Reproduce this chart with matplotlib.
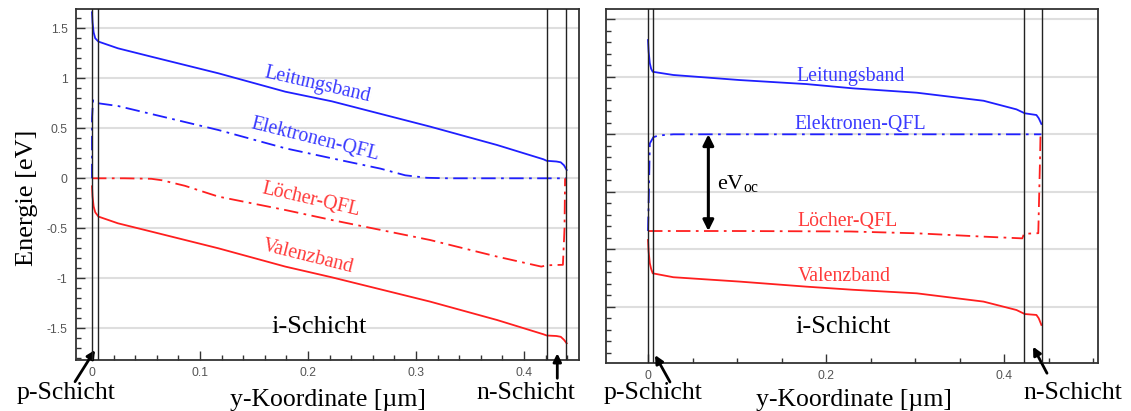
import matplotlib
matplotlib.use("Agg")
import matplotlib.pyplot as plt
from matplotlib.ticker import MultipleLocator, FormatStrFormatter, NullFormatter

plt.rcParams['axes.unicode_minus'] = False
plt.rcParams['mathtext.fontset'] = 'custom'
plt.rcParams['mathtext.rm'] = 'Liberation Serif'
plt.rcParams['mathtext.it'] = 'Liberation Serif:italic'

SERIF = 'Liberation Serif'
BLUE = '#1f1fff'
RED = '#ff1f1f'
BLUE_TXT = '#3a3aff'
RED_TXT = '#ff3a3a'

# ---- short circuit (left): band diagram along y, energies in eV ----
sc_x = [0.0, 0.0005, 0.0015, 0.003, 0.006, 0.024, 0.055, 0.117, 0.179, 0.222,
        0.313, 0.375, 0.418, 0.421, 0.430, 0.434, 0.437, 0.4395]
sc_cb = [1.66, 1.56, 1.46, 1.40, 1.367, 1.30, 1.216, 1.05, 0.866, 0.77,
         0.517, 0.333, 0.19, 0.175, 0.168, 0.16, 0.13, 0.083]
sc_vb = [-0.08, -0.18, -0.28, -0.34, -0.383, -0.45, -0.533, -0.70, -0.883, -0.99,
         -1.233, -1.417, -1.56, -1.572, -1.577, -1.585, -1.615, -1.65]

sc_efn_x = [0.0, 0.0, 0.001, 0.003, 0.006, 0.024, 0.055, 0.117, 0.179, 0.222,
            0.267, 0.29, 0.31, 0.33, 0.4395]
sc_efn = [0.0, 0.60, 0.78, 0.76, 0.75, 0.723, 0.643, 0.483, 0.30, 0.20,
          0.097, 0.03, 0.005, 0.0, 0.0]

sc_efp_x = [0.0, 0.03, 0.055, 0.065, 0.086, 0.117, 0.179, 0.222, 0.313, 0.375,
            0.416, 0.421, 0.436, 0.4375, 0.438]
sc_efp = [0.0, 0.0, -0.005, -0.02, -0.075, -0.183, -0.317, -0.417, -0.617, -0.783,
          -0.883, -0.87, -0.865, -0.5, 0.0]

sc_layers = [0.0, 0.0058, 0.4216, 0.4389]

# ---- open circuit (right) ----
oc_x = [0.0, 0.0007, 0.002, 0.0035, 0.0053, 0.0285, 0.103, 0.178, 0.23, 0.302,
        0.377, 0.414, 0.4233, 0.4364, 0.439, 0.442]
oc_cb = [0.82, 0.72, 0.62, 0.57, 0.544, 0.516, 0.472, 0.437, 0.40, 0.362,
         0.292, 0.217, 0.183, 0.168, 0.14, 0.09]
oc_vb = [-0.919, -1.02, -1.12, -1.17, -1.209, -1.243, -1.281, -1.325, -1.352, -1.383,
         -1.455, -1.528, -1.563, -1.571, -1.60, -1.658]

oc_efn_x = [0.0, 0.001, 0.002, 0.006, 0.012, 0.0285, 0.442]
oc_efn = [-0.841, -0.5, -0.08, -0.025, -0.01, 0.0, 0.0]

oc_efp_x = [0.0, 0.1, 0.227, 0.302, 0.377, 0.4205, 0.4225, 0.4385, 0.4405, 0.441]
oc_efp = [-0.841, -0.841, -0.845, -0.861, -0.89, -0.905, -0.865, -0.86, -0.2, 0.0]

oc_layers = [0.0, 0.0055, 0.4225, 0.443]

W, H = 1131, 411
fig = plt.figure(figsize=(W / 100, H / 100), dpi=100)

def px_box(x0, y0, x1, y1):
    return [x0 / W, 1 - y1 / H, (x1 - x0) / W, (y1 - y0) / H]

ax1 = fig.add_axes(px_box(76, 9, 579, 360))
ax2 = fig.add_axes(px_box(606, 9, 1098, 363))

DASHDOT = (8, 3, 1.5, 3)

def draw_bands(ax, x, cb, vb, efn_x, efn, efp_x, efp, layers):
    ax.plot(x, cb, color=BLUE, lw=1.3, zorder=3)
    ax.plot(x, vb, color=RED, lw=1.3, zorder=3)
    ax.plot(efn_x, efn, color=BLUE, lw=1.3, dashes=DASHDOT, zorder=3)
    ax.plot(efp_x, efp, color=RED, lw=1.3, dashes=DASHDOT, zorder=3)
    for xl in layers:
        ax.axvline(xl, color='#222222', lw=1.0, zorder=4)

def style_axes(ax, xmaj, xmin, show_ylabels):
    ax.xaxis.set_major_locator(MultipleLocator(xmaj))
    ax.xaxis.set_minor_locator(MultipleLocator(xmin))
    ax.yaxis.set_major_locator(MultipleLocator(0.5))
    ax.yaxis.set_minor_locator(MultipleLocator(0.1))
    ax.xaxis.set_major_formatter(FormatStrFormatter('%g'))
    if show_ylabels:
        ax.yaxis.set_major_formatter(FormatStrFormatter('%g'))
    else:
        ax.yaxis.set_major_formatter(NullFormatter())
    ax.tick_params(which='both', direction='in', top=False, right=False,
                   color='#333333', width=1.0)
    ax.tick_params(which='major', length=6.5, labelsize=8.7, labelcolor='#555555')
    ax.tick_params(which='minor', length=3.5)
    ax.tick_params(axis='y', pad=6)
    ax.tick_params(axis='x', pad=5)
    for lab in ax.get_xticklabels() + ax.get_yticklabels():
        lab.set_family('Liberation Sans')
    for sp in ax.spines.values():
        sp.set_color('#333333')
        sp.set_linewidth(1.3)
    ax.grid(axis='y', which='major', color='#dedede', lw=1.5)
    ax.set_axisbelow(True)

# left panel
draw_bands(ax1, sc_x, sc_cb, sc_vb, sc_efn_x, sc_efn, sc_efp_x, sc_efp, sc_layers)
ax1.set_xlim(-0.0148, 0.4509)
ax1.set_ylim(-1.817, 1.693)
style_axes(ax1, 0.1, 0.02, True)

lab_kw = dict(family=SERIF, fontsize=14.3, ha='center', va='center',
              rotation_mode='anchor')
ax1.text(0.2083, 0.933, 'Leitungsband', color=BLUE_TXT, rotation=-13, **lab_kw)
ax1.text(0.2065, 0.383, 'Elektronen-QFL', color=BLUE_TXT, rotation=-14, **lab_kw)
ax1.text(0.2028, -0.217, 'Löcher-QFL', color=RED_TXT, rotation=-13, **lab_kw)
ax1.text(0.200, -0.787, 'Valenzband', color=RED_TXT, rotation=-14, **lab_kw)
ax1.text(0.210, -1.487, 'i-Schicht', family=SERIF, fontsize=19,
         ha='center', va='center', color='black')

# right panel
draw_bands(ax2, oc_x, oc_cb, oc_vb, oc_efn_x, oc_efn, oc_efp_x, oc_efp, oc_layers)
ax2.set_xlim(-0.0472, 0.5056)
ax2.set_ylim(-1.989, 1.09)
style_axes(ax2, 0.2, 0.05, False)

ax2.text(0.228, 0.507, 'Leitungsband', color=BLUE_TXT, **lab_kw)
ax2.text(0.239, 0.085, 'Elektronen-QFL', color=BLUE_TXT, **lab_kw)
ax2.text(0.224, -0.76, 'Löcher-QFL', color=RED_TXT, **lab_kw)
ax2.text(0.220, -1.238, 'Valenzband', color=RED_TXT, **lab_kw)
ax2.text(0.219, -1.674, 'i-Schicht', family=SERIF, fontsize=19,
         ha='center', va='center', color='black')

# open-circuit voltage between the quasi-Fermi levels
voc_x = 0.0678
ax2.annotate('', xy=(voc_x, oc_efn[-1]), xytext=(voc_x, oc_efp[0]),
             arrowprops=dict(arrowstyle='<|-|>', color='black', lw=2.2,
                             mutation_scale=16, shrinkA=0, shrinkB=0))
ax2.text(0.0775, -0.424, r'eV$_{\mathrm{oc}}$', family=SERIF, fontsize=16,
         ha='left', va='center', color='black')

# layer pointers below the axes
arr = dict(arrowstyle='-|>', color='black', lw=2.0, mutation_scale=12,
           shrinkA=0, shrinkB=0)
ax1.annotate('', xy=(0.0028, -1.717), xytext=(-0.0157, -2.034),
             arrowprops=arr, annotation_clip=False)
ax1.annotate('', xy=(0.4308, -1.75), xytext=(0.4308, -2.0),
             arrowprops=arr, annotation_clip=False)
ax2.annotate('', xy=(0.0079, -1.92), xytext=(0.0247, -2.154),
             arrowprops=arr, annotation_clip=False)
ax2.annotate('', xy=(0.4326, -1.847), xytext=(0.4483, -2.078),
             arrowprops=arr, annotation_clip=False)

big = dict(family=SERIF, fontsize=18.5, ha='center', va='baseline', color='black')
fig.text(66 / W, 1 - 399 / H, 'p-Schicht', **big)
fig.text(526 / W, 1 - 399 / H, 'n-Schicht', **big)
fig.text(653 / W, 1 - 399 / H, 'p-Schicht', **big)
fig.text(1073 / W, 1 - 399 / H, 'n-Schicht', **big)
fig.text(328 / W, 1 - 406 / H, 'y-Koordinate [µm]', **big)
fig.text(854 / W, 1 - 406 / H, 'y-Koordinate [µm]', **big)
fig.text(27 / W, 1 - 198 / H, 'Energie [eV]', family=SERIF, fontsize=19,
         rotation=90, ha='center', va='center', color='black')

fig.savefig('out.png', dpi=100)
